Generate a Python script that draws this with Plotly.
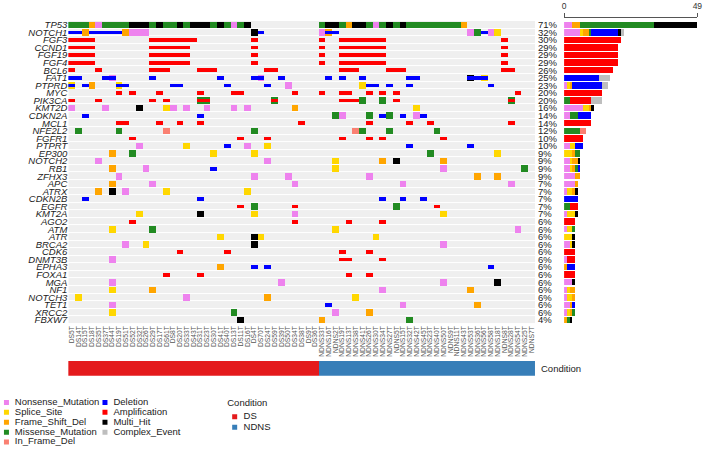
import plotly.graph_objects as go

# ---------------- data ----------------
genes = ["TP53", "NOTCH1", "FGF3", "CCND1", "FGF19", "FGF4", "BCL6", "FAT1", "PTPRD", "MYC",
         "PIK3CA", "KMT2D", "CDKN2A", "MCL1", "NFE2L2", "FGFR1", "PTPRT", "EP300", "NOTCH2", "RB1",
         "ZFHX3", "APC", "ATRX", "CDKN2B", "EGFR", "KMT2A", "AGO2", "ATM", "ATR", "BRCA2",
         "CDK6", "DNMT3B", "EPHA3", "FOXA1", "MGA", "NF1", "NOTCH3", "TET1", "XRCC2", "FBXW7"]

pct_labels = ["71%", "32%", "30%", "29%", "29%", "29%", "26%", "25%", "23%", "20%",
              "20%", "16%", "14%", "14%", "12%", "10%", "10%", "9%", "9%", "9%",
              "9%", "7%", "7%", "7%", "7%", "7%", "6%", "6%", "6%", "6%",
              "6%", "6%", "6%", "6%", "6%", "6%", "6%", "6%", "6%", "4%"]

samples_ds = ["DS5T", "DS14T", "DS15T", "DS18T", "DS35T", "DS37T", "DS44T", "DS19T", "DS51T", "DS52T",
              "DS32T", "DS26T", "DS29T", "DS17T", "DS61T", "DS8T", "DS20T", "DS33T", "DS43T", "DS31T",
              "DS23T", "DS30T", "DS41T", "DS40T", "DS13T", "DS11T", "DS16T", "DS4T", "DS70T", "DS24T",
              "DS59T", "DS39T", "DS50T", "DS34T", "DS38T", "DS9T", "DS36T"]
samples_ndns = ["NDNS33T", "NDNS16T", "NDNS2T", "NDNS19T", "NDNS13T", "NDNS38T", "NDNS41T", "NDNS26T",
                "NDNS30T", "NDNS34T", "NDNS27T", "NDNS5T", "NDNS15T", "NDNS32T", "NDNS42T", "NDNS45T",
                "NDNS23T", "NDNS40T", "NDNS50T", "NDNS9T", "NDNS11T", "NDNS43T", "NDNS53T", "NDNS36T",
                "NDNS56T", "NDNS58T", "NDNS18T", "NDNS8T", "NDNS28T", "NDNS54T", "NDNS25T", "NDNS7T"]
samples = samples_ds + samples_ndns
condition = ["DS"] * len(samples_ds) + ["NDNS"] * len(samples_ndns)

# mutation calls per gene: "<sample index or range><code>"
# N Nonsense, S Splice, F Frame_Shift_Del, M Missense, I In_Frame_Del, H Multi_Hit
mut_calls = [
    "0-2M 3F 4N 5-8M 9-11H 12M 13H 14-15M 16H 17M 18-20H 21M 22H 23M 24N 25M 26H "
    "37M 38-39H 40M 41F 42-43H 44M 45N 46M 47H 48M 49H 50-57M 58F",
    "2F 8F 9-11N 27H 37N 38F 59N 60M 62N 63S",
    "", "", "", "", "",
    "6N 28N 59H 61S",
    "0S 3F 7S 32N 43S",
    "",
    "19-20M 30M 43M 46M 65M",
    "0N 5N 10H 14S 15N 17N 20N 24N 26N 33F 51S",
    "39M 40N 44M 47M 51N",
    "",
    "1M 7M 14I 27M 42I 43M 47M 54M",
    "",
    "10N 17S 26N 29S",
    "6F 9M 21S 27S 53M 63S",
    "4N 29N 39S 46F 48H 55F",
    "6F 11N 39S 55N 67M",
    "7N 27N 32N 44N 60F 63F",
    "6F 12N 33N 49N 65N",
    "4F 6H 8N 14S 26S",
    "",
    "27M 48M",
    "10S 19H 27S 33N 55S",
    "",
    "6S 12M 39S 66N",
    "22S 27H 28S 45S",
    "8N 11S 27H 55N",
    "",
    "6N",
    "22F",
    "",
    "6N 31N 55N 63H",
    "6S 12F 46N 59F",
    "1S 17N 29F 42S",
    "6N 49N 60F",
    "6S 24M 39N 44F",
    "25H 37F 50M",
]

# copy-number calls per gene: D Deletion, A Amplification
cnv_calls = [
    "",
    "0-1D 3-7D 28D 38-39D 61D",
    "0-3A 12-18A 27A 37A 40-46A 64A",
    "0-3A 12-17A 27A 37A 40-46A 64A",
    "0-3A 12-17A 27A 37A 40-46A 64A",
    "0-3A 12-17A 27A 37A 40-46A 64A",
    "0A 4A 12-14A 19-21A 29-30A 40-42A 47-49A 64-65A",
    "0-1D 5-6D 12D 22D 27-28D 31D 38D 40D 43D 50-51D 59-61D",
    "0D 2D 7-8D 15-16D 23D 29D 44-45D 47D 50D 62D",
    "7A 9A 13A 19A 24-25A 33A 37A 40-41A 44A 46A 48A 66A",
    "0A 4A 12A 14A 19-20A 30A 40-42A 48A 65A",
    "",
    "2D 19D 46D 49D 52D",
    "7-8A 13A 16A 19A 34A 44A 50A 53A 65A",
    "",
    "9A 25A 29A 40A 44A 46A 55A",
    "23D 50D 59D",
    "", "",
    "21D",
    "", "", "",
    "2D 19D 46D 49D 52D",
    "25A 33A 54A",
    "",
    "9A 33A 41A 46A",
    "", "", "",
    "16A 23A 40A 44A",
    "40-41A 46A",
    "27D 29D 62D",
    "14A 19A 41A 44A",
    "", "", "",
    "38D",
    "", "",
]

variant_names = {"N": "Nonsense_Mutation", "S": "Splice_Site", "F": "Frame_Shift_Del",
                 "M": "Missense_Mutation", "I": "In_Frame_Del", "D": "Deletion",
                 "A": "Amplification", "H": "Multi_Hit", "C": "Complex_Event"}
variant_colors = {"N": "#EE82EE", "S": "#FFD700", "F": "#FFA500", "M": "#228B22", "I": "#FA8072",
                  "D": "#0000FF", "A": "#FF0000", "H": "#000000", "C": "#BEBEBE"}
condition_colors = {"DS": "#E41A1C", "NDNS": "#377EB8"}


def expand(spec):
    out = {}
    for tok in spec.split():
        code, rng = tok[-1], tok[:-1]
        if "-" in rng:
            a, b = map(int, rng.split("-"))
        else:
            a = b = int(rng)
        for c in range(a, b + 1):
            out[c] = code
    return out


muts = [expand(s) for s in mut_calls]
cnvs = [expand(s) for s in cnv_calls]
n_g, n_s = len(genes), len(samples)

FONT = "Liberation Sans, Arial, sans-serif"
W, H = 709, 452
MUT_H, CNV_H = 0.87, 0.5

fig = go.Figure()

# background cells
fig.add_trace(go.Heatmap(z=[[0] * n_s for _ in genes], x=list(range(n_s)), y=list(range(n_g)),
                         colorscale=[[0, "#EFEFEF"], [1, "#EFEFEF"]], showscale=False,
                         ygap=1, hoverinfo="skip", xaxis="x", yaxis="y"))

# mutation squares
for code in "NSFMIH":
    xs, ys = [], []
    for gi in range(n_g):
        for c, t in muts[gi].items():
            if t == code:
                xs.append(c)
                ys.append(gi)
    fig.add_trace(go.Bar(x=xs, y=[MUT_H] * len(xs), base=[y - MUT_H / 2 for y in ys], width=1.0,
                         marker=dict(color=variant_colors[code], line=dict(width=0)),
                         showlegend=False, hoverinfo="skip", xaxis="x", yaxis="y"))

# copy number bars
for code in "DA":
    xs, ys = [], []
    for gi in range(n_g):
        for c, t in cnvs[gi].items():
            if t == code:
                xs.append(c)
                ys.append(gi)
    fig.add_trace(go.Bar(x=xs, y=[CNV_H] * len(xs), base=[y - CNV_H / 2 for y in ys], width=1.0,
                         marker=dict(color=variant_colors[code], line=dict(width=0)),
                         showlegend=False, hoverinfo="skip", xaxis="x", yaxis="y"))

# side bar counts
order = "NSFMIDAHC"
counts = {k: [0] * n_g for k in order}
for gi in range(n_g):
    for c in range(n_s):
        m, v = muts[gi].get(c), cnvs[gi].get(c)
        if m and v:
            counts["C"][gi] += 1
        elif m:
            counts[m][gi] += 1
        elif v:
            counts[v][gi] += 1
cum = [0] * n_g
for code in order:
    fig.add_trace(go.Bar(orientation="h", y=list(range(n_g)), x=counts[code], base=list(cum),
                         width=0.85, marker=dict(color=variant_colors[code], line=dict(width=0)),
                         showlegend=False, hoverinfo="skip", xaxis="x2", yaxis="y2"))
    cum = [a + b for a, b in zip(cum, counts[code])]

# percentage axis carrier
fig.add_trace(go.Scatter(x=[0], y=[0], mode="markers", marker=dict(opacity=0), showlegend=False,
                         hoverinfo="skip", xaxis="x", yaxis="y3"))

# condition bar
for cond in ["DS", "NDNS"]:
    xs = [i for i, c in enumerate(condition) if c == cond]
    fig.add_trace(go.Bar(x=xs, y=[1] * len(xs), base=[0] * len(xs), width=1.0,
                         marker=dict(color=condition_colors[cond], line=dict(width=0)),
                         showlegend=False, hoverinfo="skip", xaxis="x", yaxis="y4"))

# legend (drawn on a pixel-scaled hidden axis)
LEG_FONT = dict(size=9.5, color="#222", family=FONT)
leg_cols = [["N", "S", "F", "M", "I"], ["D", "A", "H", "C"]]
leg_x = [4.5, 104]
for ci, col in enumerate(leg_cols):
    for ri, code in enumerate(col):
        yy = 404 + 10 * ri
        fig.add_trace(go.Scatter(x=[leg_x[ci]], y=[yy], mode="markers",
                                 marker=dict(symbol="square", size=5, color=variant_colors[code]),
                                 showlegend=False, hoverinfo="skip", xaxis="x5", yaxis="y5"))
        fig.add_trace(go.Scatter(x=[leg_x[ci] + 8.5], y=[yy], mode="text",
                                 text=[variant_names[code]], textposition="middle right",
                                 textfont=LEG_FONT, showlegend=False, hoverinfo="skip",
                                 xaxis="x5", yaxis="y5"))
fig.add_trace(go.Scatter(x=[227.5], y=[405], mode="text", text=["Condition"], textposition="middle right",
                         textfont=LEG_FONT, showlegend=False, hoverinfo="skip", xaxis="x5", yaxis="y5"))
for ri, cond in enumerate(["DS", "NDNS"]):
    yy = 418.5 + 10.5 * ri
    fig.add_trace(go.Scatter(x=[235], y=[yy], mode="markers",
                             marker=dict(symbol="square", size=5, color=condition_colors[cond]),
                             showlegend=False, hoverinfo="skip", xaxis="x5", yaxis="y5"))
    fig.add_trace(go.Scatter(x=[244], y=[yy], mode="text", text=[cond], textposition="middle right",
                             textfont=LEG_FONT, showlegend=False, hoverinfo="skip",
                             xaxis="x5", yaxis="y5"))

y0 = (H - 324.8) / H
y1 = (H - 19.2) / H
xd = [67 / W, 538.3 / W]

fig.update_layout(
    width=W, height=H, margin=dict(l=0, r=0, t=0, b=0),
    paper_bgcolor="white", plot_bgcolor="rgba(0,0,0,0)",
    barmode="overlay", bargap=0, showlegend=False,
    font=dict(family=FONT, color="#222"),
    xaxis=dict(domain=xd, range=[-0.5, n_s - 0.5], anchor="y", tickmode="array",
               tickvals=list(range(n_s)), ticktext=samples, tickangle=-90,
               tickfont=dict(size=6.7, color="#555", family=FONT), ticks="",
               showgrid=False, zeroline=False, showline=False, fixedrange=True),
    yaxis=dict(domain=[y0, y1], range=[n_g - 0.5, -0.5], anchor="x", tickmode="array",
               tickvals=list(range(n_g)), ticktext=genes,
               tickfont=dict(size=9.5, color="#222", family=FONT, style="italic"), ticks="",
               showgrid=False, zeroline=False, showline=False, fixedrange=True),
    yaxis3=dict(overlaying="y", side="right", anchor="x", range=[n_g - 0.5, -0.5], tickmode="array",
                tickvals=list(range(n_g)), ticktext=pct_labels, ticklabelstandoff=2,
                tickfont=dict(size=9.5, color="#222", family=FONT), ticks="",
                showgrid=False, zeroline=False, showline=False, fixedrange=True),
    xaxis2=dict(domain=[567.7 / W, 702.3 / W], range=[0, 49], side="top", anchor="y2",
                tickmode="array", tickvals=[0, 49], ticks="outside", ticklen=4, tickcolor="#555",
                showline=True, linecolor="#555", linewidth=1,
                tickfont=dict(size=8.5, color="#333", family=FONT),
                showgrid=False, zeroline=False, fixedrange=True),
    yaxis2=dict(domain=[y0, (H - 16) / H], range=[n_g - 0.5, n_g - 0.5 - (324.8 - 16) / 7.64],
                anchor="x2", visible=False, fixedrange=True),
    yaxis4=dict(domain=[(H - 377) / H, (H - 362) / H], range=[0, 1], anchor="x", side="right",
                tickmode="array", tickvals=[0.5], ticktext=["Condition"], ticks="",
                ticklabelstandoff=5,
                tickfont=dict(size=9.5, color="#222", family=FONT),
                showgrid=False, zeroline=False, showline=False, fixedrange=True),
    xaxis5=dict(domain=[0, 0.5], range=[0, 0.5 * W], anchor="y5", visible=False, fixedrange=True),
    yaxis5=dict(domain=[0, 68 / H], range=[H, H - 68], anchor="x5", visible=False, fixedrange=True),
)

page_fix = (
    "document.documentElement.style.margin='0';"
    "document.documentElement.style.overflow='hidden';"
    "document.body.style.margin='0';"
    "document.body.style.overflow='hidden';"
    "document.body.style.lineHeight='0';"
    "document.querySelectorAll('.svg-container').forEach(function(c){c.style.display='block';});"
)
fig.write_html("out.html", config={"displayModeBar": False, "staticPlot": True},
               post_script=page_fix)
